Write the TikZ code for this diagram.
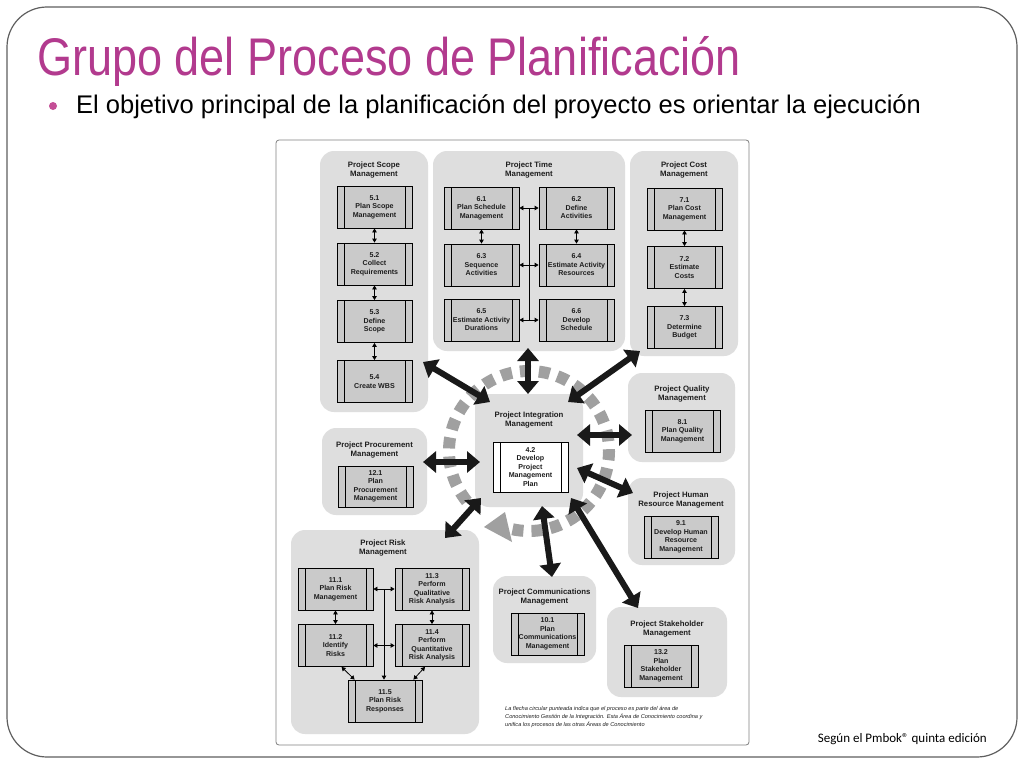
\documentclass[tikz,border=0pt]{standalone}
\usepackage{fontspec}
\setmainfont{Liberation Sans}
\newfontfamily\titlefont[FakeStretch=0.85]{Liberation Sans}
\newfontfamily\footfont{Carlito}
\usetikzlibrary{arrows.meta,calc}
\definecolor{titlemag}{RGB}{178,58,142}
\definecolor{bulletmag}{RGB}{196,78,150}
\definecolor{groupbg}{RGB}{222,222,222}
\definecolor{boxbg}{RGB}{202,202,202}
\definecolor{ringgray}{RGB}{160,160,160}
\definecolor{txt}{RGB}{30,30,30}
\definecolor{framegray}{RGB}{95,95,95}
\definecolor{arrblack}{RGB}{25,25,25}
\tikzset{
  grp/.style={fill=groupbg, rounded corners=14pt, draw=none, inner sep=0pt},
  grptitle/.style={font=\fontsize{7.8}{9.2}\selectfont\bfseries, text=txt, align=center, inner sep=0pt},
  pbox/.style={draw=black, line width=0.8pt, fill=boxbg, align=center, inner sep=0pt,
    minimum width=75pt, minimum height=42pt, font=\fontsize{7.1}{8.5}\selectfont\bfseries, text=txt,
    path picture={\draw[line width=0.7pt]
      ([xshift=7pt]path picture bounding box.north west) -- ([xshift=7pt]path picture bounding box.south west)
      ([xshift=-7pt]path picture bounding box.north east) -- ([xshift=-7pt]path picture bounding box.south east);}},
  pboxw/.style={pbox, fill=white},
  sarr/.style={line width=0.8pt, black, {Triangle[width=4.5pt,length=4pt]}-{Triangle[width=4.5pt,length=4pt]}},
  sline/.style={line width=0.8pt, black},
  bigarr/.style={line width=6pt, arrblack, {Triangle[width=21pt,length=13pt]}-{Triangle[width=21pt,length=13pt]}},
  ringline/.style={ringgray, line width=12pt, dash pattern=on 11pt off 8pt},
  ringhead/.style={fill=ringgray, draw=none}
}
\begin{document}
\begin{tikzpicture}[x=1pt,y=-1pt]
\useasboundingbox (0,0) rectangle (1024,768);
\fill[white] (0,0) rectangle (1024,768);
% slide frame
\draw[framegray, line width=1.2pt, rounded corners=40pt] (7,7) rectangle (1017,757);
% title and bullet
\node[anchor=base west, inner sep=0pt, text=titlemag, font=\titlefont\fontsize{53}{60}\selectfont] (title) at (37,75) {Grupo del Proceso de Planificación};
\node[circle, fill=bulletmag, minimum size=8pt, inner sep=0pt] (bullet) at (53,106) {};
\node[anchor=base west, inner sep=0pt, text=black, font=\fontsize{25.5}{30}\selectfont] (sub) at (76,113) {El objetivo principal de la planificación del proyecto es orientar la ejecución};
% figure frame
\node[draw=gray, line width=0.8pt, rounded corners=3pt, minimum width=473pt, minimum height=605pt, inner sep=0pt] (fig) at (512.5,442.5) {};
% dashed ring with arrow head
\coordinate (ringc) at (529,451);
\draw[ringline] ($(ringc)+(-219:80)$) arc[start angle=-219, end angle=103, radius=80];
\coordinate (rtip) at (484,527);
\coordinate (rb1) at (505,512);
\coordinate (rb2) at (512,542);
\fill[ringhead] (rtip) -- (rb1) -- (rb2) -- cycle;
% groups
\node[grp, minimum width=108pt, minimum height=261pt] (gscope) at (374,281.5) {};
\node[grp, minimum width=192pt, minimum height=200pt] (gtime) at (529,251) {};
\node[grp, minimum width=108pt, minimum height=205pt] (gcost) at (684,253.5) {};
\node[grp, minimum width=108pt, minimum height=113pt] (gint) at (529,450.5) {};
\node[grp, minimum width=107pt, minimum height=89pt] (gqual) at (681.5,417.5) {};
\node[grp, minimum width=107pt, minimum height=87pt] (ghr) at (681.5,521.5) {};
\node[grp, minimum width=103pt, minimum height=87pt] (gcomm) at (544.5,619.5) {};
\node[grp, minimum width=120pt, minimum height=90pt] (gstake) at (667,652) {};
\node[grp, minimum width=105pt, minimum height=87pt] (gproc) at (374.5,471.5) {};
\node[grp, minimum width=188pt, minimum height=204pt] (grisk) at (385,632) {};
% group titles
\node[grptitle] (tscope) at (374,170) {Project Scope\\Management};
\node[grptitle] (ttime) at (529,170) {Project Time\\Management};
\node[grptitle] (tcost) at (684,170) {Project Cost\\Management};
\node[grptitle] (tint) at (529,420) {Project Integration\\Management};
\node[grptitle] (tqual) at (682,394) {Project Quality\\Management};
\node[grptitle] (thr) at (681,500) {Project Human\\Resource Management};
\node[grptitle] (tcomm) at (544.5,597) {Project Communications\\Management};
\node[grptitle] (tstake) at (667,629) {Project Stakeholder\\Management};
\node[grptitle] (tproc) at (374.5,450) {Project Procurement\\Management};
\node[grptitle] (trisk) at (383,548) {Project Risk\\Management};
% scope boxes
\node[pbox] (b51) at (374.5,207) {5.1\\Plan Scope\\Management};
\node[pbox] (b52) at (374.5,264) {5.2\\Collect\\Requirements};
\node[pbox] (b53) at (374.5,321.5) {5.3\\Define\\Scope};
\node[pbox] (b54) at (374.5,381.5) {5.4\\Create WBS};
% time boxes
\node[pbox] (b61) at (481.5,208) {6.1\\Plan Schedule\\Management};
\node[pbox] (b62) at (576.5,208) {6.2\\Define\\Activities};
\node[pbox] (b63) at (481.5,265) {6.3\\Sequence\\Activities};
\node[pbox] (b64) at (576.5,265) {6.4\\Estimate Activity\\Resources};
\node[pbox] (b65) at (481.5,320) {6.5\\Estimate Activity\\Durations};
\node[pbox] (b66) at (576.5,320) {6.6\\Develop\\Schedule};
% cost boxes
\node[pbox] (b71) at (684.5,209) {7.1\\Plan Cost\\Management};
\node[pbox] (b72) at (684.5,267.5) {7.2\\Estimate\\Costs};
\node[pbox] (b73) at (684.5,327.5) {7.3\\Determine\\Budget};
% integration
\node[pboxw, minimum height=50pt] (b42) at (530.5,467) {4.2\\Develop\\Project\\Management\\Plan};
% quality, hr, comm, stake, proc
\node[pbox] (b81) at (682.5,431) {8.1\\Plan Quality\\Management};
\node[pbox, minimum width=74pt] (b91) at (681,537) {9.1\\Develop Human\\Resource\\Management};
\node[pbox, minimum width=73pt] (b101) at (547.5,634) {10.1\\Plan\\Communications\\Management};
\node[pbox, minimum width=74pt] (b132) at (661,666) {13.2\\Plan\\Stakeholder\\Management};
\node[pbox, minimum height=41pt] (b121) at (375.5,486.5) {12.1\\Plan\\Procurement\\Management};
% risk boxes
\node[pbox] (b111) at (335.5,589) {11.1\\Plan Risk\\Management};
\node[pbox, minimum width=74pt] (b113) at (432,589) {11.3\\Perform\\Qualitative\\Risk Analysis};
\node[pbox] (b112) at (335.5,645.5) {11.2\\Identify\\Risks};
\node[pbox, minimum width=74pt] (b114) at (432,645.5) {11.4\\Perform\\Quantitative\\Risk Analysis};
\node[pbox, minimum width=74pt] (b115) at (385,701) {11.5\\Plan Risk\\Responses};
% small arrows: scope
\draw[sarr] (b51) -- (b52);
\draw[sarr] (b52) -- (b53);
\draw[sarr] (b53) -- (b54);
% time
\coordinate (tmtop) at ($(b61.east)!0.5!(b62.west)$);
\coordinate (tmbot) at ($(b65.east)!0.5!(b66.west)$);
\draw[sline] (tmtop) -- (tmbot);
\draw[sarr] (b61) -- (b62);
\draw[sarr] (b63) -- (b64);
\draw[sarr] (b65) -- (b66);
\draw[sarr] (b61) -- (b63);
\draw[sarr] (b62) -- (b64);
% cost
\draw[sarr] (b71) -- (b72);
\draw[sarr] (b72) -- (b73);
% risk
\coordinate (rmid) at ($(b111.east)!0.5!(b113.west)$);
\draw[sline, -{Triangle[width=4.5pt,length=4pt]}] (rmid) -- (rmid |- b115.north);
\draw[sarr] (b111) -- (b113);
\draw[sarr] (b112) -- (b114);
\draw[sarr] (b111) -- (b112);
\draw[sarr] (b113) -- (b114);
\draw[sarr] ([xshift=6pt]b112.south) -- ([xshift=7pt]b115.north west);
\draw[sarr] ([xshift=-7pt]b114.south) -- ([xshift=-9pt]b115.north east);
% big arrow end points
\coordinate (a1s) at (423,362); \coordinate (a1e) at (490,402);
\coordinate (a2s) at (528,348); \coordinate (a2e) at (528,394);
\coordinate (a3s) at (640,351); \coordinate (a3e) at (568,402);
\coordinate (a4s) at (632,435); \coordinate (a4e) at (577,435);
\coordinate (a5s) at (633,493); \coordinate (a5e) at (577,468);
\coordinate (a6s) at (638,608); \coordinate (a6e) at (571,498);
\coordinate (a7s) at (552,577); \coordinate (a7e) at (542,506);
\coordinate (a8s) at (423,462); \coordinate (a8e) at (480,462);
\coordinate (a9s) at (445,538); \coordinate (a9e) at (481,498);
\draw[bigarr] (a1s) -- (a1e);
\draw[bigarr] (a2s) -- (a2e);
\draw[bigarr] (a3s) -- (a3e);
\draw[bigarr] (a4s) -- (a4e);
\draw[bigarr] (a5s) -- (a5e);
\draw[bigarr] (a6s) -- (a6e);
\draw[bigarr] (a7s) -- (a7e);
\draw[bigarr] (a8s) -- (a8e);
\draw[bigarr] (a9s) -- (a9e);
% footnote
\node[anchor=north west, align=left, inner sep=0pt, text=txt, font=\itshape\fontsize{5.6}{8}\selectfont] (note) at (505,706) {La flecha circular punteada indica que el proceso es parte del área de\\Conocimiento Gestión de la Integración. Esta Área de Conocimiento coordina y\\unifica los procesos de las otras Áreas de Conocimiento};
% source
\node[anchor=base east, inner sep=0pt, text=black, font=\footfont\fontsize{13}{15}\selectfont] (src) at (987,742) {Según el Pmbok® quinta edición};
\end{tikzpicture}
\end{document}
